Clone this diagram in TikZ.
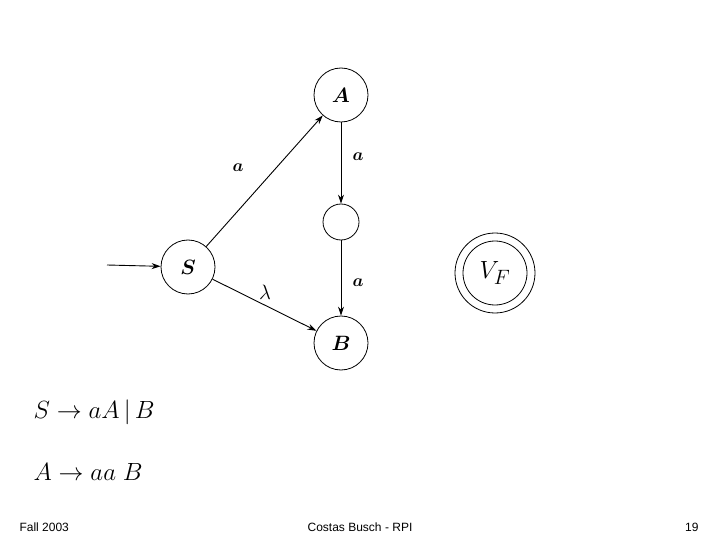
\documentclass[tikz,border=0pt]{standalone}
\usepackage{amsmath,amssymb,bm}
\usepackage{fontspec}
\setsansfont{Liberation Sans}
\setmainfont{Liberation Serif}
\usetikzlibrary{arrows.meta}
\begin{document}
\begin{tikzpicture}[x=1pt,y=-1pt,
  st/.style={circle,draw,line width=0.8pt,minimum size=54pt,inner sep=0pt,font=\fontsize{20}{20}\selectfont},
  tr/.style={-{Stealth[length=9pt,width=6pt]},line width=0.9pt},
  lb/.style={font=\fontsize{16}{16}\selectfont},
  foot/.style={font=\sffamily\fontsize{12}{12}\selectfont}]
\useasboundingbox (0,0) rectangle (720,540);
\node[st] (A) at (341,95) {$\bm{A}$};
\node[st,minimum size=36pt] (M) at (341,222) {};
\node[st] (S) at (188,267) {$\bm{S}$};
\node[st] (B) at (341,343) {$\bm{B}$};
\node[st,minimum size=80pt,font=\fontsize{30}{30}\selectfont] (F) at (495,273) {$V_F$};
\node[circle,draw,line width=0.8pt,minimum size=64pt] (Fi) at (F) {};
\coordinate (in) at (107,265);
\draw[tr] (in) -- (S);
\draw[tr] (S) -- (A);
\draw[tr] (A) -- (M);
\draw[tr] (M) -- (B);
\draw[tr] (S) -- (B);
\node[lb] (la1) at (238,168) {$\bm{a}$};
\node[lb] (la2) at (358,157) {$\bm{a}$};
\node[lb] (la3) at (358,283) {$\bm{a}$};
\node[font=\fontsize{22}{22}\selectfont] (ll) at (265,292) {$\lambda$};
\node[anchor=west,font=\fontsize{34}{34}\selectfont] (r1) at (30,412) {$S\rightarrow aA\,|\,B$};
\node[anchor=west,font=\fontsize{34}{34}\selectfont] (r2) at (30,472) {$A\rightarrow aa\;B$};
\node[foot,anchor=west] (f1) at (16,527) {Fall 2003};
\node[foot] (f2) at (360,527) {Costas Busch - RPI};
\node[foot,anchor=east] (f3) at (702,527) {19};
\end{tikzpicture}
\end{document}
